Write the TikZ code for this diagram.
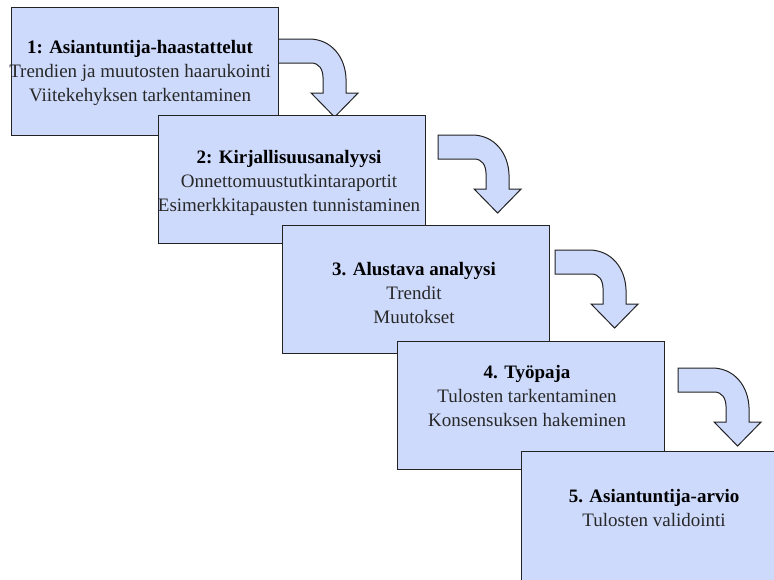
\documentclass[tikz,border=0pt]{standalone}
\usepackage{fontspec}
\setmainfont{Liberation Serif}
\usetikzlibrary{calc}
\definecolor{stepfill}{RGB}{205,218,252}
\definecolor{edgeline}{RGB}{35,35,35}
\definecolor{bodytext}{RGB}{40,40,40}
\tikzset{
  stagebox/.style={draw=edgeline, line width=1.1pt, fill=stepfill,
    minimum width=267pt, minimum height=128pt, anchor=north west, inner sep=0pt},
  stagetext/.style={anchor=north, align=center, inner sep=0pt,
    font=\fontsize{19}{24}\selectfont, text=bodytext},
  pics/bentarrow/.style={code={
    \draw[draw=edgeline, line width=1pt, fill=stepfill, line join=miter]
      (0,0) -- (34,0) .. controls (56,0) and (71,18) .. (71,42)
      -- (71,54) -- (83,54) -- (59.5,78) -- (36,54) -- (48,54) -- (48,40)
      .. controls (48,30) and (44,24) .. (36,24) -- (0,24) -- cycle;
  }}
}
\begin{document}
\begin{tikzpicture}[x=1pt,y=-1pt]
\useasboundingbox (0,0) rectangle (774,579);
\clip (0,0) rectangle (774,579);

% stage boxes (positions only; arrows are drawn beneath them)
\path (11,7)    node[stagebox, draw=none, fill=none] (b1) {};
\path (158,115) node[stagebox, draw=none, fill=none] (b2) {};
\path (282,225) node[stagebox, draw=none, fill=none] (b3) {};
\path (397,341) node[stagebox, draw=none, fill=none] (b4) {};
\path (521,451) node[stagebox, draw=none, fill=none, minimum height=150pt] (b5) {};

% bent arrows leading from one stage to the next
\pic at ($(b1.north east)+(-4,32)$) {bentarrow};
\pic at ($(b2.north east)+(12,20)$) {bentarrow};
\pic at ($(b3.north east)+(5,25)$) {bentarrow};
\pic at ($(b4.north east)+(13,27)$) {bentarrow};

% boxes, each one overlapping the previous
\node[stagebox] (s1) at (b1.north west) {};
\node[stagetext] (t1) at ($(s1.north)+(-5,33)$)
  {\textbf{\color{black}1: Asiantuntija-haastattelut}\\
   Trendien ja muutosten haarukointi\\
   Viitekehyksen tarkentaminen};

\node[stagebox] (s2) at (b2.north west) {};
\node[stagetext] (t2) at ($(s2.north)+(-3,35)$)
  {\textbf{\color{black}2: Kirjallisuusanalyysi}\\
   Onnettomuustutkintaraportit\\
   Esimerkkitapausten tunnistaminen};

\node[stagebox] (s3) at (b3.north west) {};
\node[stagetext] (t3) at ($(s3.north)+(-2,37)$)
  {\textbf{\color{black}3. Alustava analyysi}\\
   Trendit\\
   Muutokset};

\node[stagebox] (s4) at (b4.north west) {};
\node[stagetext] (t4) at ($(s4.north)+(-4,24)$)
  {\textbf{\color{black}4. Työpaja}\\
   Tulosten tarkentaminen\\
   Konsensuksen hakeminen};

\node[stagebox, minimum height=150pt] (s5) at (b5.north west) {};
\node[stagetext] (t5) at ($(s5.north)+(-1,38)$)
  {\textbf{\color{black}5. Asiantuntija-arvio}\\
   Tulosten validointi};
\end{tikzpicture}
\end{document}
